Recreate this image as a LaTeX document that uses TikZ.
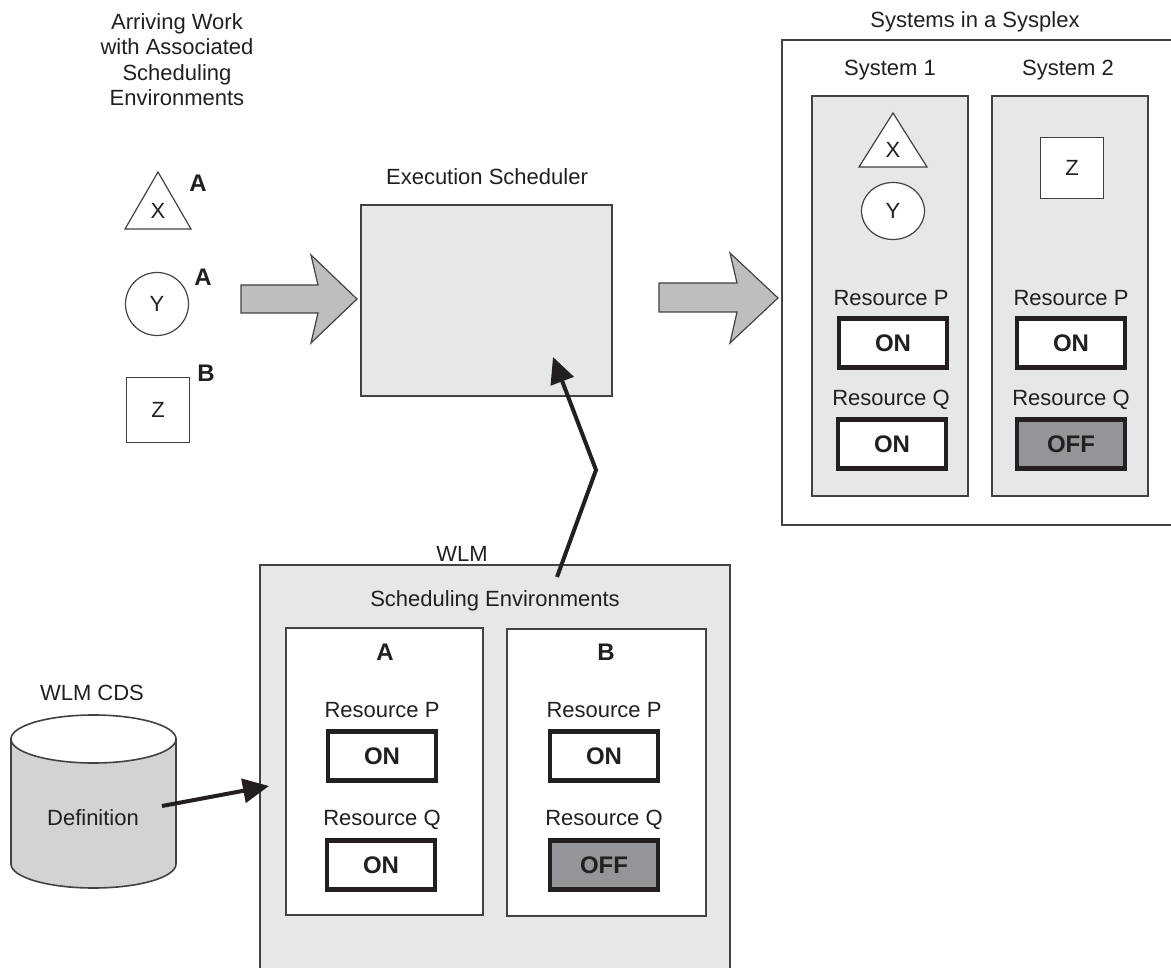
\documentclass[tikz,border=0pt]{standalone}
\usepackage{fontspec}
\setmainfont{Liberation Sans}
\usetikzlibrary{arrows.meta,shapes.geometric}
\definecolor{lgray}{HTML}{E6E7E8}
\definecolor{agray}{HTML}{BCBEC0}
\definecolor{cgray}{HTML}{D1D3D4}
\definecolor{dgray}{HTML}{939598}
\definecolor{ink}{HTML}{231F20}
\tikzset{
  lbl/.style={font=\fontsize{22}{25.5}\selectfont, text=ink, inner sep=0pt, align=center},
  bold/.style={font=\fontsize{24}{28}\selectfont\bfseries, text=ink, inner sep=0pt},
  thin/.style={draw=ink!85, line width=1.2pt},
  panel/.style={thin, fill=lgray},
  wpanel/.style={thin, fill=white},
  onbox/.style={draw=ink, line width=4.5pt, fill=white, minimum width=108pt, minimum height=49pt, inner sep=0pt, font=\fontsize{24}{28}\selectfont\bfseries, text=ink},
  offbox/.style={onbox, fill=dgray},
  bigarrow/.style={thin, fill=agray, line join=miter},
  blackarrow/.style={draw=ink, line width=4pt, -{Triangle[length=26pt,width=24pt]}},
}
\begin{document}
\begin{tikzpicture}[x=1pt,y=-1pt]
\useasboundingbox (0,0) rectangle (1171,968);
\clip (0,0) rectangle (1171,968);

% Left column: arriving work
\node[lbl, anchor=north] (arrtxt) at (177,13) {Arriving Work\\with Associated\\Scheduling\\Environments};
\draw[thin, fill=white] (158,172) -- (191,229) -- (125,229) -- cycle;
\node[lbl] (wx) at (158,211) {X};
\node[bold] (la) at (198,183) {A};
\node[thin, fill=white, circle, minimum size=63pt, inner sep=0pt] (wy) at (157,304) {};
\node[lbl] at (wy) {Y};
\node[bold] (lb) at (203,277) {A};
\node[thin, fill=white, minimum width=63pt, minimum height=65pt, inner sep=0pt] (wz) at (158,410) {};
\node[lbl] at (wz) {Z};
\node[bold] (lc) at (206,373) {B};

% Left big arrow
\draw[bigarrow] (241,285) -- (318,285) -- (311,255) -- (357,299) -- (311,343) -- (318,313) -- (241,313) -- cycle;

% Execution scheduler
\node[lbl] (extxt) at (487,177) {Execution Scheduler};
\draw[panel] (361,205) rectangle (612,396);
\coordinate (exec) at (486,300);

% Right big arrow
\draw[bigarrow] (659,283) -- (737,283) -- (730,253) -- (778,298) -- (730,343) -- (737,312) -- (659,312) -- cycle;

% Sysplex
\node[lbl] (sysplex) at (975,22) {Systems in a Sysplex};
\draw[thin, fill=white] (782,40) rectangle (1190,525);
\node[lbl] (s1t) at (890,70) {System 1};
\node[lbl] (s2t) at (1068,70) {System 2};
\draw[panel] (812,96) rectangle (968,496);
\draw[panel] (992,96) rectangle (1148,496);
\draw[thin, fill=white] (893,113) -- (927,167) -- (859,167) -- cycle;
\node[lbl] at (893,150) {X};
\node[thin, fill=white, ellipse, minimum width=63pt, minimum height=57pt, inner sep=0pt] (sy) at (893,211) {};
\node[lbl] at (sy) {Y};
\node[thin, fill=white, minimum width=63pt, minimum height=61pt, inner sep=0pt] (sz) at (1072,168) {};
\node[lbl] at (sz) {Z};
\node[lbl] at (891,298) {Resource P};
\node[onbox] (s1p) at (893,343) {ON};
\node[lbl] at (891,400) {Resource Q};
\node[onbox] (s1q) at (892,444) {ON};
\node[lbl] at (1071,298) {Resource P};
\node[onbox] (s2p) at (1071,343) {ON};
\node[lbl] at (1071,400) {Resource Q};
\node[offbox] (s2q) at (1071,444) {OFF};

% WLM
\node[lbl] (wlmt) at (462,554) {WLM};
\draw[panel] (260,565) rectangle (730,990);
\coordinate (wlmtop) at (557,577);
\coordinate (wlmleft) at (269,786);
\node[lbl] (setxt) at (495,601) {Scheduling Environments};
\draw[wpanel] (286,628) rectangle (483,915);
\draw[wpanel] (507,629) rectangle (706,916);
\node[bold] at (385,652) {A};
\node[bold] at (606,652) {B};
\node[lbl] at (382,710) {Resource P};
\node[onbox] (ap) at (382,756) {ON};
\node[lbl] at (382,820) {Resource Q};
\node[onbox] (aq) at (381,865) {ON};
\node[lbl] at (604,710) {Resource P};
\node[onbox] (bp) at (604,756) {ON};
\node[lbl] at (604,820) {Resource Q};
\node[offbox] (bq) at (604,865) {OFF};

% Cylinder
\node[lbl] (cdst) at (92,693) {WLM CDS};
\draw[thin, line width=1.6pt, fill=cgray] (11,739) -- (11,864) arc[start angle=180, end angle=0, x radius=82.5, y radius=24] -- (176,739) -- cycle;
\draw[thin, line width=1.6pt, fill=white] (93.5,739) ellipse[x radius=82.5, y radius=24];
\node[lbl] (defn) at (93,818) {Definition};
\coordinate (cdsout) at (162,806);

% Black arrows
\draw[blackarrow] (cdsout) -- (wlmleft);
\draw[blackarrow, line join=miter] (wlmtop) -- (596,470) -- (553,357);
\end{tikzpicture}
\end{document}
